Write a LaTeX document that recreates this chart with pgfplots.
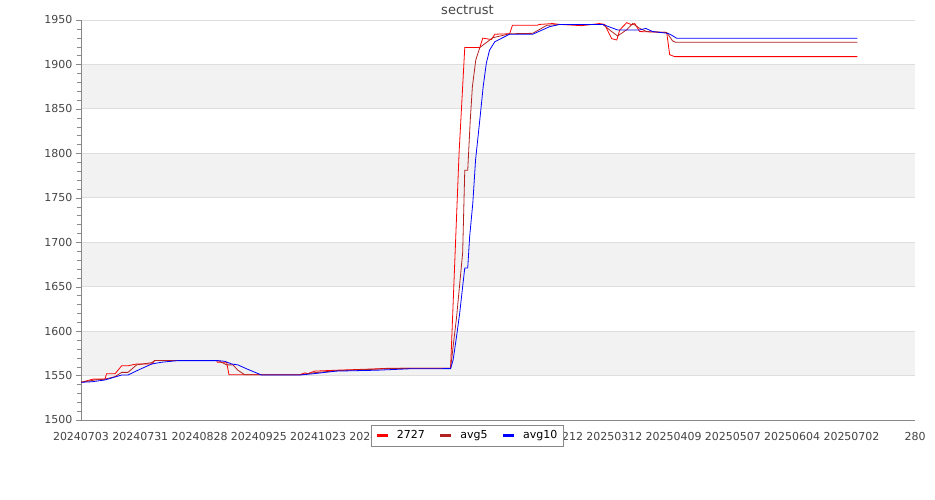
\documentclass[border=0pt]{standalone}
\usepackage{fontspec}
\setmainfont{DejaVu Sans}
\usepackage{pgfplots}
\pgfplotsset{compat=1.18}

\definecolor{c2727}{HTML}{FF0000}
\definecolor{cavg5}{HTML}{B22222}
\definecolor{cavg10}{HTML}{0000FF}
\definecolor{band}{HTML}{F2F2F2}
\definecolor{gridc}{HTML}{DEDEDE}
\definecolor{axisc}{HTML}{888888}
\definecolor{txt}{HTML}{444444}

\begin{document}
\begin{tikzpicture}
\begin{axis}[
  set layers,
  at={(81pt,80pt)}, anchor=south west,
  scale only axis, width=834pt, height=400pt,
  xmin=0, xmax=394, ymin=1500, ymax=1950,
  axis x line=bottom, axis y line=left,
  axis line style={axisc, -},
  xtick={0,28,56,84,112,140,168,196,224,252,280,308,336,364,394},
  xticklabels={20240703,20240731,20240828,20240925,20241023,20241120,20241218,20250115,20250212,20250312,20250409,20250507,20250604,20250702,280},
  ytick={1500,1550,...,1950},
  minor y tick num=4,
  tick align=outside,
  major tick length=5pt, minor tick length=4pt,
  xtick style={draw=none},
  ytick style={axisc}, minor y tick style={axisc},
  ymajorgrids, grid style={gridc, line width=0.8pt},
  /pgf/number format/assume math mode=true,
  /pgf/number format/1000 sep={},
  ticklabel style={font=\fontsize{11}{13}\selectfont, text=txt},
  xticklabel style={yshift=-4pt},
  title={sectrust},
  title style={at={(0.4634,1)}, anchor=south, font=\fontsize{13}{15}\selectfont, text=txt, yshift=-4pt},
  legend columns=3,
  legend image code/.code={\draw[line width=2.5pt] (0pt,0pt) -- (11pt,0pt);},
  legend style={at={(0.4634,-0.0125)}, anchor=north, draw=axisc, fill=white,
    font=\fontsize{11}{13}\selectfont, inner xsep=4pt, inner ysep=3.5pt,
    /tikz/every odd column/.append style={column sep=6pt},
    /tikz/every even column/.append style={column sep=12pt}},
]
% alternating background bands
\addplot[fill=band, draw=none, forget plot, on layer=axis background] coordinates {(0,1550) (394,1550) (394,1600) (0,1600)} -- cycle;
\addplot[fill=band, draw=none, forget plot, on layer=axis background] coordinates {(0,1650) (394,1650) (394,1700) (0,1700)} -- cycle;
\addplot[fill=band, draw=none, forget plot, on layer=axis background] coordinates {(0,1750) (394,1750) (394,1800) (0,1800)} -- cycle;
\addplot[fill=band, draw=none, forget plot, on layer=axis background] coordinates {(0,1850) (394,1850) (394,1900) (0,1900)} -- cycle;

% 2727
\addplot[c2727, line width=0.8pt] coordinates {
(0,1542.4) (5.7,1546) (11.3,1546) (12.1,1552) (16.1,1552) (19.2,1561) (22.2,1561)
(26.3,1563) (33.4,1563) (34.9,1567) (64.1,1567) (64.4,1565) (68.8,1565) (69.9,1551)
(103.4,1551) (105.8,1553) (107.2,1552) (108.1,1553) (110.5,1555) (120.7,1556)
(137.9,1557.4) (146.7,1558.3) (174.6,1558.3) (178.6,1800) (181.3,1919) (188.4,1919)
(189.8,1929.6) (193.9,1928) (195.5,1934) (202.5,1934.5) (203.8,1944) (215.3,1944)
(216.7,1945) (222.8,1946) (226.2,1945) (236.5,1943.6) (245,1946) (247.4,1945)
(250.7,1929) (253.1,1927.5) (254.5,1938.8) (257.8,1947) (260.2,1944.6) (261.6,1946)
(263.9,1937) (276.7,1936) (278.1,1911) (280.4,1908.8) (366.8,1908.8)
};
% avg5
\addplot[cavg5, line width=0.8pt] coordinates {
(0,1542.4) (6.6,1545) (11.3,1546) (16.1,1548.8) (19.2,1553.6) (22.2,1553.6)
(26.3,1562) (33.4,1564.5) (34.9,1567) (64.7,1567) (68.8,1562) (71.8,1562)
(74.1,1556) (77.4,1550.8) (103.4,1550.8) (109.5,1553) (120.7,1555.5) (137.9,1557)
(146.7,1558) (174.6,1558.3) (177.4,1615) (180.3,1688) (181.3,1781) (182.7,1781)
(183.9,1837.5) (184.9,1875) (186.5,1905) (188.4,1919) (194.5,1930) (202.5,1934.5)
(213.4,1935) (220,1944) (226.2,1945) (246.5,1945) (250.7,1937) (253.5,1932)
(257.8,1939) (260.6,1946) (263.9,1940.6) (267.2,1937) (276.7,1936) (279.5,1926.4)
(280.9,1925) (366.8,1925)
};
% avg10
\addplot[cavg10, line width=0.8pt] coordinates {
(0,1542.4) (5.1,1543) (11.3,1545) (19.2,1550.6) (22.2,1550.6) (26.9,1556)
(33.4,1563) (38.1,1565) (45.8,1566.8) (64.7,1566.8) (68,1566) (71.2,1563)
(74.1,1562) (78.8,1557) (85.3,1550.6) (103.4,1550.6) (109.5,1552) (120.7,1555)
(139.6,1556) (155.3,1557.6) (174.6,1557.8) (175.8,1567.5) (177.4,1593.7) (178.9,1620)
(180.3,1650) (181.3,1671) (182.7,1671) (183.6,1706) (185.1,1744) (186.4,1792.5)
(188.4,1837.5) (190,1875) (191.5,1901.6) (193,1916) (195.5,1925.6) (202.5,1934)
(213.4,1934) (221.4,1942.5) (226.2,1945) (246.5,1945) (253.5,1938.8) (263.9,1938.8)
(266.8,1940.5) (270.1,1937) (277.2,1935) (279,1933) (281.4,1929.4) (366.8,1929.4)
};
\legend{2727,avg5,avg10}
\end{axis}
\pgfresetboundingbox
\path[use as bounding box] (0,0) rectangle (935pt,500pt);
\end{tikzpicture}
\end{document}
